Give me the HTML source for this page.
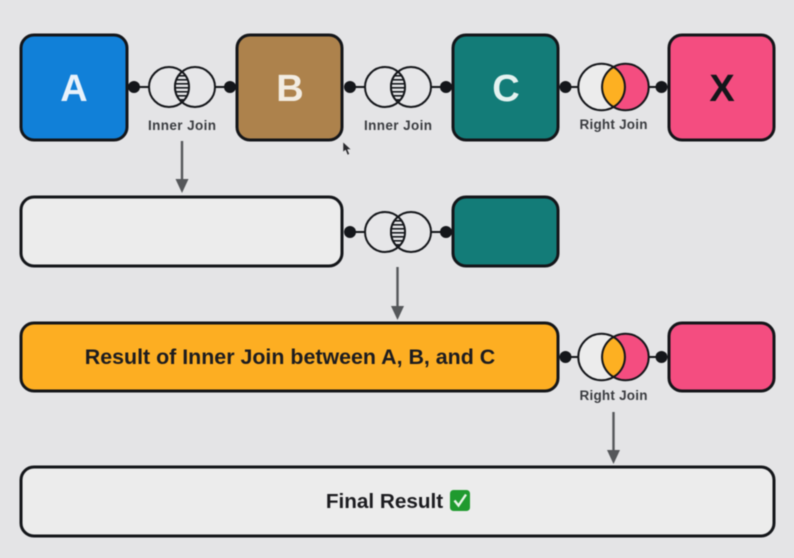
<!DOCTYPE html>
<html>
<head>
<meta charset="utf-8">
<style>
html,body{margin:0;padding:0;background:#e4e4e6;width:794px;height:558px;overflow:hidden}
svg{display:block;filter:blur(0.4px)}
text{font-family:"Liberation Sans",sans-serif;font-weight:700}
.box{stroke:#14161a;stroke-width:3}
.ln{stroke:#14161a;stroke-width:2}
.lbl{font-size:13.5px;fill:#3a3c40;text-anchor:middle}
.big{font-size:38px;text-anchor:middle}
.ar{stroke:#55575a;stroke-width:2.4;fill:none}
.ah{fill:#55575a}
</style>
</head>
<body>
<svg width="794" height="558" viewBox="0 0 794 558" xmlns="http://www.w3.org/2000/svg">
<defs>
<pattern id="h" width="4" height="4" patternUnits="userSpaceOnUse">
<rect width="4" height="1.6" fill="#14161a"/>
</pattern>
<symbol id="inner" overflow="visible">
<path d="M-48 0H48" class="ln" fill="none"/>
<circle cx="-13" cy="0" r="20" fill="#e6e6e8" class="ln"/>
<circle cx="13" cy="0" r="20" fill="#e6e6e8" class="ln"/>
<path d="M-13 0m20 0A20 20 0 0 0 6.500 0" fill="none"/>
<path d="M0 -15.200A20 20 0 0 1 0 15.200A20 20 0 0 1 0 -15.200Z" fill="#e6e6e8"/>
<path d="M0 -15.200A20 20 0 0 1 0 15.200A20 20 0 0 1 0 -15.200Z" fill="url(#h)" class="ln"/>
<circle cx="-48" cy="0" r="6" fill="#14161a"/>
<circle cx="48" cy="0" r="6" fill="#14161a"/>
</symbol>
<symbol id="right" overflow="visible">
<path d="M-48 0H48" class="ln" fill="none"/>
<circle cx="-12" cy="0" r="23.200" fill="#ececec" class="ln"/>
<circle cx="12" cy="0" r="23.200" fill="#f44d80" class="ln"/>
<path d="M0 -20A23.200 23.200 0 0 1 0 20A23.200 23.200 0 0 1 0 -20Z" fill="#fdb022" class="ln"/>
<circle cx="-48" cy="0" r="6" fill="#14161a"/>
<circle cx="48" cy="0" r="6" fill="#14161a"/>
</symbol>
</defs>

<rect width="794" height="558" fill="#e4e4e6"/>

<!-- connectors row 1 -->
<use href="#inner" x="182" y="87"/>
<use href="#inner" x="398" y="87"/>
<use href="#right" x="613.500" y="87"/>

<!-- row 1 boxes -->
<rect x="21" y="35" width="106" height="105" rx="13" fill="#1180d8" class="box"/>
<rect x="237" y="35" width="105" height="105" rx="13" fill="#ad824c" class="box"/>
<rect x="453" y="35" width="105" height="105" rx="13" fill="#137c78" class="box"/>
<rect x="669" y="35" width="105" height="105" rx="13" fill="#f44d80" class="box"/>
<text x="74" y="101" class="big" fill="#e8f2fb">A</text>
<text x="290" y="101" class="big" fill="#f2ece2">B</text>
<text x="506" y="101" class="big" fill="#e4f2f0">C</text>
<text x="722" y="101" class="big" fill="#14161a">X</text>

<text x="182" y="130" class="lbl" textLength="68" lengthAdjust="spacing">Inner Join</text>
<text x="398" y="130" class="lbl" textLength="68" lengthAdjust="spacing">Inner Join</text>
<text x="613.500" y="129" class="lbl" textLength="68" lengthAdjust="spacing">Right Join</text>

<!-- cursor -->
<path d="M343 142L343 152L345.500 150L347.500 155L349.500 154L347.500 149.500L351 149.500Z" fill="#2a2a2e" stroke="#e4e4e6" stroke-width="0.5"/>

<!-- arrow 1 -->
<path d="M182 141V182" class="ar"/>
<path d="M175.500 179H188.500L182 193Z" class="ah"/>

<!-- row 2 -->
<use href="#inner" x="398" y="232"/>
<rect x="21" y="197" width="321" height="69" rx="13" fill="#ececec" class="box"/>
<rect x="453" y="197" width="105" height="69" rx="13" fill="#137c78" class="box"/>

<!-- arrow 2 -->
<path d="M397.500 267V309" class="ar"/>
<path d="M391 306H404L397.500 320Z" class="ah"/>

<!-- row 3 -->
<use href="#right" x="613.500" y="357"/>
<rect x="21" y="323" width="537" height="68" rx="13" fill="#fdae22" class="box"/>
<rect x="669" y="323" width="105" height="68" rx="13" fill="#f44d80" class="box"/>
<text x="290" y="364" font-size="21.400" text-anchor="middle" fill="#1c1c20">Result of Inner Join between A, B, and C</text>
<text x="613.500" y="400" class="lbl" textLength="68" lengthAdjust="spacing">Right Join</text>

<!-- arrow 3 -->
<path d="M613.500 412V453" class="ar"/>
<path d="M607 450H620L613.500 464Z" class="ah"/>

<!-- final -->
<rect x="21" y="467" width="753" height="69" rx="13" fill="#ececec" class="box"/>
<text x="384.500" y="508" font-size="20.700" text-anchor="middle" fill="#1c1c20">Final Result</text>
<rect x="450" y="490" width="20" height="21" rx="3.500" fill="#1f9a2e"/>
<path d="M454.500 500.500L458.500 505.500L466 494.500" fill="none" stroke="#e8f5e8" stroke-width="2.400"/>
</svg>
</body>
</html>
